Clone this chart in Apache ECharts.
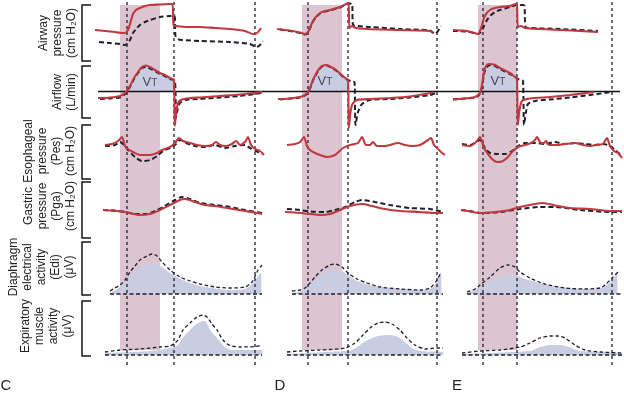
<!DOCTYPE html>
<html><head><meta charset="utf-8">
<script src="https://cdn.jsdelivr.net/npm/echarts@6/dist/echarts.min.js"></script>
<style>html,body{margin:0;padding:0;background:#fff}#c{width:624px;height:395px}</style>
</head><body><div id="c"></div>
<script>
// ---- data (x = time in samples, y = signal amplitude in arbitrary units) ----
const panelLetters = ['C', 'D', 'E'];
const rowLabels = [
  ['Airway', 'pressure', '(cm H\u2082O)'],
  ['Airflow', '(L/min)'],
  ['Esophageal', 'pressure', '(Pes)', '(cm H\u2082O)'],
  ['Gastric', 'pressure', '(Pga)', '(cm H\u2082O)'],
  ['Diaphragm', 'electrical', 'activity', '(Edi)', '(\u03bcV)'],
  ['Expiratory', 'muscle', 'activity', '(\u03bcV)']
];
const inspirationBands = [[120, 160], [302, 342], [478, 517]];
const eventMarks = [127, 174, 255, 308, 348, 437, 483, 517, 612];

// Airway pressure
const pawRedC = [[95,31],[105,30],[115,29],[122,28],[125,28],[128,31],[130,37],[133,47],[136,51],[140,53],[145,55],[150,56],[160,56.5],[170,57],[172.5,57],[173.5,36],[176,35],[180,34.5],[190,34],[200,34],[215,33],[230,32],[245,30],[253,27],[257,28],[261,33]];
const pawBlackC = [[99,19],[110,18],[120,17],[125,16],[128,18],[130,21],[133,28],[137,33],[140,36],[145,39],[150,41],[160,44],[170,45],[174.5,45],[175.5,25],[178,22],[182,21],[200,20],[230,19],[250,17],[256,14],[259,15],[263,20]];
const pawRedD = [[277,32],[285,31],[293,30],[300,28.5],[305,27],[308,29],[310,33],[312,38],[315,43],[320,48],[325,50],[330,51],[340,54],[346,57],[348.5,58],[349.5,33],[352,35],[356,33],[367,32],[400,31],[430,30],[433,28]];
const pawBlackD = [[280,31.5],[293,29.5],[300,28],[305,26.5],[308,28.5],[310,32.5],[312,37.5],[315,42.5],[320,47.5],[325,49.5],[330,50.5],[340,53.5],[346,56.5],[348.5,57.5],[352,57],[353,36],[358,35],[370,34],[400,32],[430,30.5],[435,27],[441,35]];
const pawRedE = [[453,31],[460,30.5],[467,30],[473,28.5],[478,27],[480,30],[482,36],[484,43],[486,47],[490,51],[495,53],[500,54],[510,55],[516,57],[517,57],[518,34],[521,35],[525,33],[540,32],[560,31],[580,30],[598,29]];
const pawBlackE = [[453,30],[467,29.5],[478,27],[481,29],[484,35],[487,41],[490,45],[495,49],[500,51],[510,54],[517,56],[523,56],[524.5,55],[525.5,34],[530,33],[560,32],[598,30]];

// Airflow
const flowRedC = [[98,-6.5],[110,-6],[120,-4.5],[125,-1.5],[128,2.5],[131,7.5],[134,13.5],[138,19.5],[142,24.5],[146,26],[150,24.5],[155,21.5],[160,18.5],[165,16.5],[170,13.5],[174,11.5],[174.8,-34.5],[176.5,-18.5],[178.5,-10.5],[182,-8],[190,-6.5],[200,-6],[220,-4.5],[240,-3],[262,-0.5]];
const flowBlackC = [[100,-7.5],[110,-7],[120,-6],[125,-2.5],[128,1.5],[131,6.5],[134,12.5],[138,18.5],[142,23.5],[146,24.5],[150,23],[155,20.5],[160,17.5],[165,15.5],[170,12.5],[175,10.5],[176,-26.5],[177.5,-18.5],[180,-11.5],[185,-8.5],[200,-7.5],[220,-6],[240,-4.5],[255,-2.5],[262,-1.5]];
const flowRedD = [[278,-7.5],[290,-7],[300,-5.5],[305,-3.5],[308,-0.5],[310,3.5],[313,11.5],[316,17.5],[319,22.5],[322,25.5],[327,26.5],[332,24],[336,21.5],[340,18],[344,14.5],[348,11.5],[348.8,-36.5],[350.5,-20.5],[352.5,-12.5],[357,-8.5],[370,-7.5],[390,-6.5],[410,-5],[425,-2.5],[433,-1]];
const flowBlackD = [[280,-8],[300,-6],[305,-4],[308,-1],[310,3],[313,11],[316,17],[319,22],[322,25],[327,26],[332,23.5],[336,21],[340,17.5],[344,14],[348,11.5],[352,10],[354.5,9.5],[355.5,-33.5],[358,-20.5],[362,-12.5],[370,-8.5],[390,-7.5],[410,-6],[430,-3.5],[437,-1]];
const flowRedE = [[453,-7.5],[465,-7],[475,-5.5],[479,-2.5],[481,1.5],[482.5,9.5],[484,19.5],[486,25.5],[489,27.5],[494,27],[500,23.5],[505,21],[510,18.5],[515,14.5],[517,13],[517.8,-33.5],[519.5,-18.5],[522,-9.5],[530,-7],[550,-5.5],[570,-3.5],[594,-0.5]];
const flowBlackE = [[453,-8],[475,-6],[479,-3.5],[481,0.5],[482.5,7.5],[484,17.5],[486,23.5],[490,26.5],[495,25.5],[500,22.5],[505,20],[510,17.5],[515,14.5],[518,12.5],[521,11.5],[523,10.5],[524,-33.5],[526,-20.5],[528,-12.5],[535,-9.5],[550,-8],[570,-6],[590,-3.5],[612,-0.5]];
const flowBaseline = [[98, 0], [620, 0]];
const vtWindows = [[126.6, 174.2], [308.2, 348.4], [480.4, 517.4]];
const vtLabelPos = [[150, 9.5], [325, 10.5], [498, 10.5]];

// Esophageal pressure
const pesRedC = [[105,34],[112,35],[118,38],[122,42],[125,33],[128,30],[133,27],[140,24],[150,24],[157,26],[162,29],[170,32],[175,36],[179,41],[183,38],[190,36],[197,34],[205,33],[212,34],[216,37],[220,34],[226,33],[232,35],[236,38],[240,34],[245,37],[248,42],[251,34],[255,30],[260,28],[264,24]];
const pesBlackC = [[105,33],[115,34],[120,37],[124,34],[128,29],[135,22],[142,18],[150,19],[157,23],[163,28],[170,31],[176,35],[180,39],[186,36],[195,33],[205,32],[215,34],[225,31],[235,33],[245,34],[250,31],[256,28],[262,25]];
const pesRedD = [[287,34],[295,35],[300,37],[304,42],[307,33],[310,29],[315,26],[320,24],[327,22],[335,24],[343,31],[350,34],[358,36],[362,42],[366,34],[370,34],[373,37],[377,33],[385,33],[390,34],[398,36],[405,34],[412,33],[420,34],[428,39],[431,41],[434,34],[437,31],[441,27],[445,24]];
const pesRedE = [[462,34],[470,33],[476,37],[480,42],[484,31],[488,25],[492,20],[497,17],[502,17.5],[507,21],[512,27],[518,32],[525,34],[531,36],[535,39],[537,42],[541,36],[544,36],[546,38],[549,34],[557,34],[565,35],[575,36],[583,34],[590,33],[597,34],[603,35],[607,41],[610,33],[614,28],[618,26],[622,21]];
const pesBlackE = [[462,35],[470,34],[476,37],[480,39],[485,31],[490,26],[497,25],[505,25],[512,28],[518,33],[525,36],[535,36],[545,35],[555,37],[565,35],[575,36],[585,35],[595,34],[603,35],[610,33],[615,29],[621,24]];

// Gastric pressure
const pgaRedC = [[103,28],[115,27],[125,26],[130,25],[140,23],[150,24],[160,28],[170,33],[180,38],[185,39],[195,36],[205,33],[215,32],[230,29.5],[245,27],[255,25.5],[262,24]];
const pgaBlackC = [[103,28],[115,27.5],[125,26],[135,24],[145,24],[155,27],[165,32],[175,38],[182,41],[190,39],[200,35],[215,33],[230,31],[245,28],[262,25]];
const pgaRedD = [[285,26],[300,25],[310,24],[320,23],[330,24],[340,28],[350,32],[362,34],[372,32],[385,29],[400,27],[420,26],[435,25],[443,25]];
const pgaBlackD = [[287,29],[300,28],[310,26.5],[325,26],[335,28],[345,31],[355,36],[362,38],[375,36],[390,33],[410,30],[430,29],[443,26]];
const pgaRedE = [[461,28],[470,26.5],[480,25],[495,26],[510,28],[520,31],[535,34],[543,35],[555,32.5],[570,30],[590,29],[610,27],[622,27]];
const pgaBlackE = [[461,28],[470,27],[480,25],[500,26],[520,29],[540,31],[555,31],[580,28],[610,26],[622,26]];

// Diaphragm electrical activity
const ediEnvC = [[110,3],[115,6],[120,9],[125,14],[130,22],[135,28],[140,34],[147,38],[152,40],[157,38],[162,32],[170,24],[180,17],[190,13],[200,10],[215,7],[230,6],[245,7],[252,12],[258,24],[262,29]];
const ediFillC = [[110,1],[120,7],[125,12],[130,18],[140,26],[147,30],[155,30],[162,27],[170,21],[180,15],[190,11],[200,8],[215,5.5],[230,4],[245,5],[250,8],[255,14],[261,21],[261.5,0]];
const ediEnvD = [[292,3],[300,4],[305,6],[310,11],[315,17],[322,24],[330,29],[335,30],[342,27],[348,21],[357,15],[367,11],[380,7],[400,5],[420,4],[430,6],[437,14],[441,22]];
const ediFillD = [[292,1],[305,4],[310,9],[318,16],[325,22],[333,25],[340,24],[348,19],[357,13],[370,9],[390,6],[420,4],[430,5],[435,9],[441,22],[441.5,0]];
const ediEnvE = [[467,2],[475,5],[480,9],[490,17],[500,26],[508,29],[515,27],[520,22],[530,16],[545,10],[565,6],[585,5],[600,6],[605,9],[612,16],[618,22]];
const ediFillE = [[467,1],[480,7],[490,12],[500,17],[510,19.5],[517,18.5],[525,15],[540,11],[560,7],[585,5],[600,6],[606,8.5],[612,14],[617,21],[617.5,0]];
const ediBaselines = [[110, 262], [292, 443], [467, 622]];

// Expiratory muscle activity
const expEnvC = [[105,3],[120,5],[140,6],[160,8],[170,9],[175,12],[178,15],[183,25],[190,32],[197,38],[203,40],[207,38],[212,31],[217,25],[223,15],[230,9.5],[240,8],[255,8.5],[262,10]];
const expFillC = [[105,2],[150,4],[170,7],[178,10],[185,20],[193,28],[200,33],[205,34],[210,25],[217,17],[225,8],[232,5],[262,5],[262.5,0]];
const expEnvD = [[287,3],[300,4],[320,5],[345,7],[355,12],[363,20],[370,27],[378,32],[385,33],[392,31],[400,25],[407,17],[415,10],[425,6],[437,7],[443,7]];
const expFillD = [[287,1],[345,4],[352,5],[360,10],[368,15],[378,19],[390,20],[398,18],[405,13],[412,7],[420,4],[443,3],[443.5,0]];
const expEnvE = [[462,2],[480,4],[500,5],[520,8],[530,12],[540,17],[550,19],[558,19],[565,17],[575,10],[585,5],[600,3],[622,2]];
const expFillE = [[462,1],[530,4],[540,8],[550,10],[560,10],[570,7.5],[580,4],[622,2],[622.5,0]];
const expBaselines = [[105, 262], [287, 443], [462, 622]];

// ---- layout / style ----
const RED = '#bf3a40', INK = '#1e1e2c', FILL = '#c9cde2', PINK = '#dcc5d1';
const rowsLayout = [
  {top: 5, height: 56, min: 0, max: 56, labelX: 58, labelY: 33},
  {top: 66, height: 52, min: -26.5, max: 25.5, labelX: 65, labelY: 92},
  {top: 125, height: 54, min: 0, max: 54, labelX: 50, labelY: 151},
  {top: 182, height: 56, min: 0, max: 56, labelX: 50, labelY: 206},
  {top: 242, height: 53, min: -1, max: 52, labelX: 42, labelY: 267},
  {top: 301, height: 55, min: -1, max: 54, labelX: 47, labelY: 326}
];
const grids = rowsLayout.map(r => ({left: 82, width: 542, top: r.top, height: r.height}));
grids.push({left: 82, width: 542, top: 5, height: 345});   // inspiration bands
grids.push({left: 82, width: 542, top: 0, height: 365});   // event markers
const xAxes = grids.map((g, i) => ({type: 'value', gridIndex: i, min: 82, max: 624, show: false}));
const yAxes = rowsLayout.map((r, i) => ({
  type: 'value', gridIndex: i, min: r.min, max: r.max,
  axisLine: {show: true, onZero: false, lineStyle: {color: '#222', width: 1.6}},
  axisTick: {show: true, inside: true, length: 9, customValues: [r.min, r.max], lineStyle: {color: '#222', width: 1.6}},
  axisLabel: {show: false}, splitLine: {show: false}
}));
yAxes.push({type: 'value', gridIndex: 6, min: 0, max: 1, show: false});
yAxes.push({type: 'value', gridIndex: 7, min: 0, max: 1, show: false});

const series = [];
function line(gi, data, lineStyle, z, extra) {
  series.push(Object.assign({
    type: 'line', xAxisIndex: gi, yAxisIndex: gi, data: data, symbol: 'none', showSymbol: false,
    smooth: 0.25, clip: false, silent: true, animation: false, lineStyle: lineStyle, z: z
  }, extra || {}));
}
const redStyle = {color: RED, width: 2.1};
const blackStyle = {color: INK, width: 2, type: [5, 3]};
const envStyle = {color: INK, width: 1.3, type: [3.5, 2.5]};
const baseStyle = {color: INK, width: 1.5, type: [4, 2.5]};
function fill(gi, data) {
  line(gi, data, {width: 0, opacity: 0}, 1, {areaStyle: {color: FILL, opacity: 1}});
}

// bands
series.push({
  type: 'custom', xAxisIndex: 6, yAxisIndex: 6, silent: true, animation: false, z: 0,
  data: inspirationBands,
  renderItem: (p, api) => {
    const a = api.coord([api.value(0), 0]), b = api.coord([api.value(1), 1]);
    return {type: 'rect', shape: {x: a[0], y: b[1], width: b[0] - a[0], height: a[1] - b[1]}, style: {fill: PINK}};
  }
});
// event markers
series.push({
  type: 'custom', xAxisIndex: 7, yAxisIndex: 7, silent: true, animation: false, z: 3,
  data: eventMarks.map(x => [x]),
  renderItem: (p, api) => {
    const a = api.coord([api.value(0), 0]), b = api.coord([api.value(0), 1]);
    return {type: 'line', shape: {x1: a[0], y1: a[1], x2: b[0], y2: b[1]}, style: {stroke: INK, lineWidth: 1.3, lineDash: [3, 3]}};
  }
});

// row 1
[pawBlackC, pawBlackD, pawBlackE].forEach(d => line(0, d, blackStyle, 4));
[pawRedC, pawRedD, pawRedE].forEach(d => line(0, d, redStyle, 5));
// row 2
const flowReds = [flowRedC, flowRedD, flowRedE];
vtWindows.forEach((w, i) => {
  const pts = flowReds[i].filter(p => p[0] > w[0] && p[0] < w[1]);
  fill(1, [[w[0], 0]].concat(pts, [[w[1], 0]]));
});
line(1, flowBaseline, {color: '#111', width: 1.5}, 2, {smooth: false});
[flowBlackC, flowBlackD, flowBlackE].forEach(d => line(1, d, blackStyle, 4));
flowReds.forEach(d => line(1, d, redStyle, 5));
series.push({
  type: 'scatter', xAxisIndex: 1, yAxisIndex: 1, data: vtLabelPos, symbolSize: 2, silent: true, animation: false,
  itemStyle: {color: 'rgba(0,0,0,0)'}, z: 6,
  label: {show: true, position: 'inside', formatter: '{v|V}{t|T}',
    rich: {v: {fontSize: 13, color: '#23232f', fontFamily: 'Liberation Sans, Arial'},
           t: {fontSize: 10, color: '#23232f', fontFamily: 'Liberation Sans, Arial', padding: [3, 0, 0, 0]}}}
});
// row 3
[pesBlackC, pesBlackE].forEach(d => line(2, d, blackStyle, 4));
[pesRedC, pesRedD, pesRedE].forEach(d => line(2, d, redStyle, 5));
// row 4
[pgaBlackC, pgaBlackD, pgaBlackE].forEach(d => line(3, d, blackStyle, 4));
[pgaRedC, pgaRedD, pgaRedE].forEach(d => line(3, d, redStyle, 5));
// row 5
[ediFillC, ediFillD, ediFillE].forEach(d => fill(4, d));
ediBaselines.forEach(b => line(4, [[b[0], 0], [b[1], 0]], baseStyle, 4, {smooth: false}));
[ediEnvC, ediEnvD, ediEnvE].forEach(d => line(4, d, envStyle, 4));
// row 6
[expFillC, expFillD, expFillE].forEach(d => fill(5, d));
expBaselines.forEach(b => line(5, [[b[0], 0], [b[1], 0]], baseStyle, 4, {smooth: false}));
[expEnvC, expEnvD, expEnvE].forEach(d => line(5, d, envStyle, 4));

// text
const FONT = '12px "Liberation Sans", Arial, sans-serif';
const graphic = rowLabels.map((lines, i) => ({
  type: 'text', x: rowsLayout[i].labelX, y: rowsLayout[i].labelY, rotation: Math.PI / 2, silent: true,
  style: {text: lines.join('\n'), font: FONT, fill: '#222', align: 'center', verticalAlign: 'middle',
          textAlign: 'center', textVerticalAlign: 'middle', lineHeight: 14}
}));
const letterX = [6, 280, 457];
panelLetters.forEach((t, i) => graphic.push({
  type: 'text', x: letterX[i], y: 386, silent: true,
  style: {text: t, font: '15px "Liberation Sans", Arial, sans-serif', fill: '#222', align: 'center', verticalAlign: 'middle',
          textAlign: 'center', textVerticalAlign: 'middle'}
}));

const chart = echarts.init(document.getElementById('c'), null, {renderer: 'canvas'});
chart.setOption({animation: false, grid: grids, xAxis: xAxes, yAxis: yAxes, series: series, graphic: graphic});
</script>
</body></html>
